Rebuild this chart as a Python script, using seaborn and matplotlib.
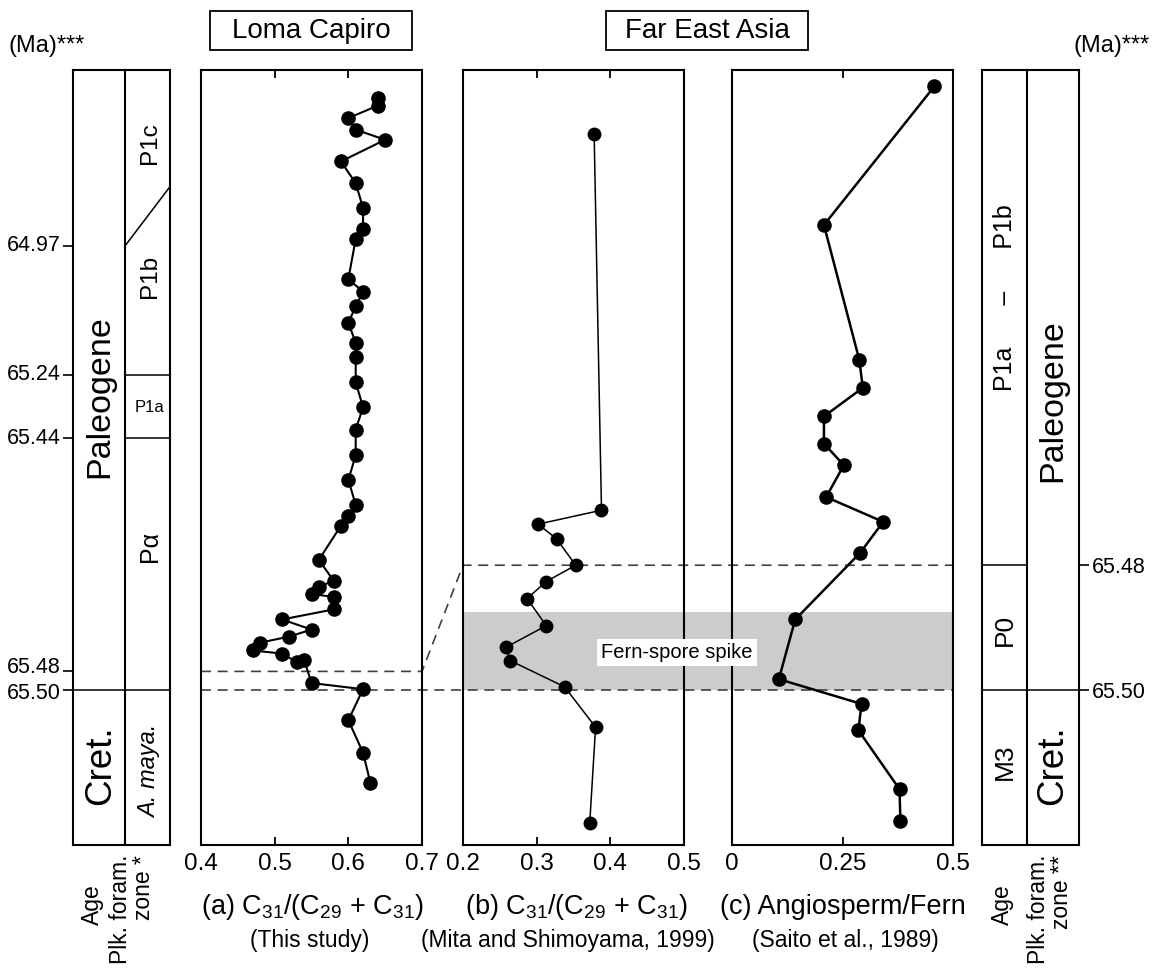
import numpy as np
import pandas as pd
import matplotlib
matplotlib.use("Agg")
import matplotlib.pyplot as plt
import seaborn as sns
from matplotlib.patches import Rectangle
from matplotlib.lines import Line2D
import matplotlib.transforms as mtransforms

# ---------------- data ----------------
# stratigraphic height: relative position in the plotted interval (0 = base, 100 = top)
loma_height = [96.4, 95.4, 93.8, 92.3, 91.0, 88.2, 85.4, 82.2, 79.5, 78.2,
               73.0, 71.4, 69.5, 67.4, 64.8, 63.0, 59.7, 56.5, 53.6, 50.3,
               47.1, 43.9, 42.4, 41.2, 36.8, 34.1, 33.3, 32.4, 32.0, 30.4,
               29.1, 27.8, 26.9, 26.1, 25.1, 24.7, 23.6, 23.9, 20.9, 20.1,
               16.1, 11.9, 8.0]
loma_c31 = [0.64, 0.64, 0.60, 0.61, 0.65, 0.59, 0.61, 0.62, 0.62, 0.61,
            0.60, 0.62, 0.61, 0.60, 0.61, 0.61, 0.61, 0.62, 0.61, 0.61,
            0.60, 0.61, 0.60, 0.59, 0.56, 0.58, 0.56, 0.55, 0.58, 0.58,
            0.51, 0.55, 0.52, 0.48, 0.47, 0.51, 0.53, 0.54, 0.55, 0.62,
            0.60, 0.62, 0.63]

mita_height = [91.8, 43.2, 41.4, 39.5, 36.1, 34.0, 31.8, 28.3, 25.5, 23.8, 20.4, 15.2, 2.8]
mita_c31 = [0.378, 0.388, 0.302, 0.327, 0.353, 0.313, 0.287, 0.313, 0.258, 0.264, 0.338, 0.380, 0.372]

saito_height = [97.9, 80.0, 62.6, 59.0, 55.3, 51.8, 49.0, 44.9, 41.7, 37.7,
                29.1, 21.4, 18.2, 14.8, 7.2, 3.1]
saito_af = [0.458, 0.208, 0.288, 0.296, 0.208, 0.208, 0.253, 0.213, 0.342, 0.290,
            0.143, 0.106, 0.293, 0.286, 0.379, 0.381]

# boundaries (same height scale)
h_6497 = 77.3
h_6497_top = 84.95      # diachronous P1b/P1c boundary, right end
h_6524 = 60.65
h_6544 = 52.5
h_6548_loma = 22.4
h_6550 = 20.0
h_6548_fea = 36.1
spike_top = 30.1

left_tick_pos = [h_6497, h_6524, h_6544, h_6548_loma, h_6550]
left_tick_lab = ["64.97", "65.24", "65.44", "65.48", "65.50"]
right_tick_pos = [h_6548_fea, h_6550]
right_tick_lab = ["65.48", "65.50"]

a_ticks = [0.4, 0.5, 0.6, 0.7]
b_ticks = [0.2, 0.3, 0.4, 0.5]
c_ticks = [0, 0.25, 0.5]
c_labels = ["0", "0.25", "0.5"]

# ---------------- style ----------------
sns.set_theme(style="white", rc={"axes.edgecolor": "black", "text.color": "black",
                                 "xtick.color": "black", "ytick.color": "black",
                                 "axes.labelcolor": "black"})
plt.rcParams["font.family"] = ["Liberation Sans", "DejaVu Sans"]
plt.rcParams["mathtext.fontset"] = "custom"
plt.rcParams["mathtext.rm"] = "Liberation Sans"
plt.rcParams["mathtext.it"] = "Liberation Sans:italic"

W, H = 1154, 974
fig = plt.figure(figsize=(W / 100, H / 100), dpi=100)
fig.patch.set_facecolor("white")

TOP, BOT = 70, 845


def rect(x0, x1):
    return [x0 / W, 1 - BOT / H, (x1 - x0) / W, (BOT - TOP) / H]


def fx(x):
    return x / W


def fy(y):
    return 1 - y / H


ax_l = fig.add_axes(rect(73, 170))
ax_a = fig.add_axes(rect(201, 422))
ax_b = fig.add_axes(rect(463, 684))
ax_c = fig.add_axes(rect(732, 953))
ax_r = fig.add_axes(rect(982, 1079))

for ax in (ax_l, ax_a, ax_b, ax_c, ax_r):
    ax.set_ylim(0, 100)
    ax.set_facecolor("none")
    for s in ax.spines.values():
        s.set_linewidth(1.5)
        s.set_color("black")

# ---------------- data panels ----------------
panels = [
    (ax_a, pd.DataFrame({"v": loma_c31, "h": loma_height}), (0.4, 0.7), a_ticks,
     [str(t) for t in a_ticks], 1.5, 10.5),
    (ax_b, pd.DataFrame({"v": mita_c31, "h": mita_height}), (0.2, 0.5), b_ticks,
     [str(t) for t in b_ticks], 1.1, 10),
    (ax_c, pd.DataFrame({"v": saito_af, "h": saito_height}), (0, 0.5), c_ticks,
     c_labels, 1.8, 10.5),
]
for ax, df, xl, ticks, labs, lw, ms in panels:
    sns.lineplot(data=df, x="v", y="h", sort=False, estimator=None, ax=ax,
                 color="black", lw=lw, marker="o", markersize=ms,
                 markeredgecolor="black", markeredgewidth=0)
    ax.set_xlim(*xl)
    ax.set_ylim(0, 100)
    ax.set_xticks(ticks)
    ax.set_xticklabels(labs)
    ax.set_yticks([])
    ax.set_xlabel("")
    ax.set_ylabel("")
    ax.tick_params(axis="x", direction="in", top=True, bottom=True, length=6,
                   width=1.3, labelsize=17.5, pad=6)

# ---------------- stratigraphic columns ----------------
DIV_L = (125 - 73) / 97
ax_l.set_xlim(0, 1)
ax_l.set_xticks([])
ax_l.set_yticks(left_tick_pos)
ax_l.set_yticklabels([""] * len(left_tick_pos))
ax_l.tick_params(axis="y", direction="out", left=True, length=7, width=1.2, pad=1.5)
# tick labels (the two lowest ones are nudged apart so they do not collide)
nudge = {"65.48": 0.5, "65.50": -0.5}
lab_tr = mtransforms.blended_transform_factory(fig.transFigure, ax_l.transData)
for pos, lab in zip(left_tick_pos, left_tick_lab):
    fig.text(fx(61), pos + nudge.get(lab, 0), lab, transform=lab_tr, fontsize=15.5,
             ha="right", va="center")

ax_l.axvline(DIV_L, color="black", lw=1.5)
ax_l.axhline(h_6550, color="black", lw=1.1)
ax_l.plot([DIV_L, 1], [h_6524, h_6524], color="black", lw=1.1)
ax_l.plot([DIV_L, 1], [h_6544, h_6544], color="black", lw=1.1)
ax_l.plot([DIV_L, 1], [h_6497, h_6497_top], color="black", lw=1.1)

col_kw = dict(ha="center", va="center", rotation=90)
ax_l.text(0.28, 57.9, "Paleogene", fontsize=24.5, **col_kw)
ax_l.text(0.28, 10.3, "Cret.", fontsize=26.5, **col_kw)
ax_l.text(0.79, 90.6, "P1c", fontsize=17.5, **col_kw)
ax_l.text(0.79, 73.3, "P1b", fontsize=17.5, **col_kw)
ax_l.text(0.79, 56.5, "P1a", fontsize=12, ha="center", va="center")
ax_l.text(0.79, 38.5, "Pα", fontsize=18, **col_kw)
ax_l.text(0.79, 9.5, "A. maya.", fontsize=17, fontstyle="italic", **col_kw)

DIV_R = (1027 - 982) / 97
ax_r.set_xlim(0, 1)
ax_r.set_xticks([])
ax_r.yaxis.tick_right()
ax_r.set_yticks(right_tick_pos)
ax_r.set_yticklabels(right_tick_lab)
ax_r.tick_params(axis="y", direction="out", right=True, left=False, length=7,
                 width=1.2, labelsize=15.5, pad=2)
ax_r.axvline(DIV_R, color="black", lw=1.5)
ax_r.axhline(h_6550, color="black", lw=1.1)
ax_r.plot([0, DIV_R], [h_6548_fea, h_6548_fea], color="black", lw=1.1)
ax_r.text(0.232, 70.6, "P1a      –      P1b", fontsize=18, **col_kw)
ax_r.text(0.232, 27.7, "P0", fontsize=19, **col_kw)
ax_r.text(0.232, 10.8, "M3", fontsize=19, **col_kw)
ax_r.text(0.732, 57.3, "Paleogene", fontsize=24.5, **col_kw)
ax_r.text(0.732, 10.3, "Cret.", fontsize=26.5, **col_kw)

# ---------------- figure-level correlation lines & band ----------------
blend = mtransforms.blended_transform_factory(fig.transFigure, ax_a.transData)
fig.add_artist(Rectangle((fx(463), h_6550), fx(953) - fx(463), spike_top - h_6550,
                         transform=blend, facecolor="#cccccc", edgecolor="none",
                         zorder=-1))
dash_kw = dict(transform=blend, color="#404040", lw=1.2, linestyle=(0, (6, 4)), zorder=-0.5)
fig.add_artist(Line2D([fx(201), fx(422), fx(463), fx(953)],
                      [h_6548_loma, h_6548_loma, h_6548_fea, h_6548_fea], **dash_kw))
fig.add_artist(Line2D([fx(201), fx(953)], [h_6550, h_6550], **dash_kw))
fig.text(fx(677), 24.8, "Fern-spore spike", transform=blend, fontsize=14.5,
         ha="center", va="center", zorder=5,
         bbox=dict(boxstyle="square,pad=0.2", facecolor="white", edgecolor="none"))

# ---------------- headers ----------------
for cx, label in [(311, "Loma Capiro"), (707, "Far East Asia")]:
    fig.add_artist(Rectangle((fx(cx - 101), fy(50)), 202 / W, 39 / H,
                             transform=fig.transFigure, fill=False,
                             edgecolor="black", lw=1.3))
    fig.text(fx(cx), fy(31), label, fontsize=20, ha="center", va="center")

fig.text(fx(8), fy(46), "(Ma)***", fontsize=17, ha="left", va="center")
fig.text(fx(1150), fy(46), "(Ma)***", fontsize=17, ha="right", va="center")

# ---------------- bottom labels ----------------
fig.text(fx(312), fy(907), r"(a) C$_{\mathrm{31}}$/(C$_{\mathrm{29}}$ + C$_{\mathrm{31}}$)",
         fontsize=19.5, ha="center", va="center")
fig.text(fx(576), fy(907), r"(b) C$_{\mathrm{31}}$/(C$_{\mathrm{29}}$ + C$_{\mathrm{31}}$)",
         fontsize=19.5, ha="center", va="center")
fig.text(fx(843), fy(907), "(c) Angiosperm/Fern", fontsize=19.5, ha="center", va="center")
fig.text(fx(310), fy(940), "(This study)", fontsize=16.5, ha="center", va="center")
fig.text(fx(568), fy(940), "(Mita and Shimoyama, 1999)", fontsize=16.5, ha="center", va="center")
fig.text(fx(845), fy(940), "(Saito et al., 1989)", fontsize=16.5, ha="center", va="center")

fig.text(fx(92), fy(905), "Age", fontsize=16.5, rotation=90, ha="center", va="center")
fig.text(fx(132), fy(855), "Plk. foram.\nzone *", fontsize=16.5, rotation=90,
         ha="center", va="top", multialignment="right", linespacing=1.05)
fig.text(fx(1002), fy(905), "Age", fontsize=16.5, rotation=90, ha="center", va="center")
fig.text(fx(1050), fy(855), "Plk. foram.\nzone **", fontsize=16.5, rotation=90,
         ha="center", va="top", multialignment="right", linespacing=1.05)

fig.savefig("out.png", dpi=100, facecolor="white")
